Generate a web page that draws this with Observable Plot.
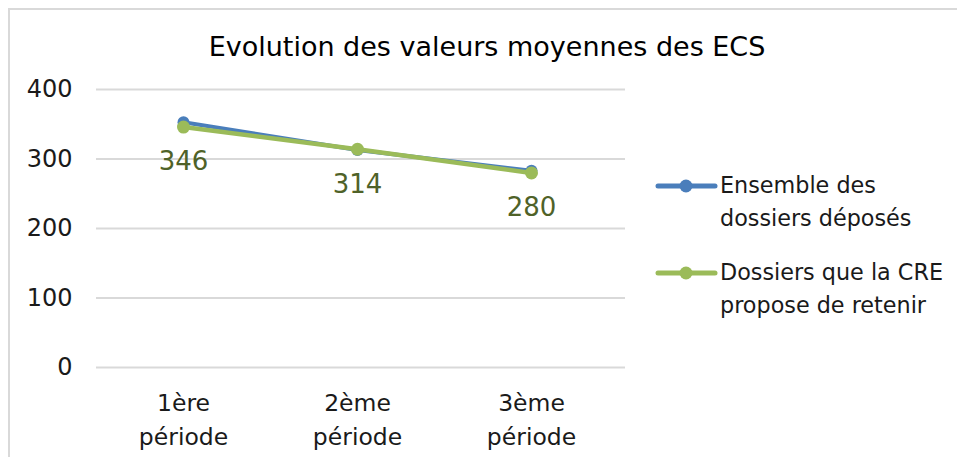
<!DOCTYPE html>
<html>
<head>
<meta charset="utf-8">
<script src="https://cdn.jsdelivr.net/npm/d3@7"></script>
<script src="https://cdn.jsdelivr.net/npm/@observablehq/plot@0.6"></script>
<style>
  html, body { margin: 0; padding: 0; background: #fff; }
  #wrap { position: relative; width: 957px; height: 457px; overflow: hidden; font-family: "DejaVu Sans", sans-serif; }
  #frame { position: absolute; left: 8px; top: 8px; width: 960px; height: 460px; border-top: 2px solid #d9d9d9; border-left: 2px solid #d9d9d9; }
  #title { position: absolute; left: 0; width: 974px; top: 30px; text-align: center; font-size: 27px; color: #000; line-height: 34px; }
  #chart { position: absolute; left: 0; top: 65px; }
  .leg { position: absolute; left: 655px; font-size: 22.3px; line-height: 33px; color: #1a1a1a; }
  .leg svg { position: absolute; left: 0; top: 0; }
  .leg span { display: block; margin-left: 65px; white-space: nowrap; }
</style>
</head>
<body>
<div id="wrap">
  <div id="frame"></div>
  <div id="title">Evolution des valeurs moyennes des ECS</div>
  <div id="chart"></div>
  <div id="legend"></div>
</div>
<script>
const categories = ["1ère\npériode", "2ème\npériode", "3ème\npériode"];
const seriesNames = ["Ensemble des dossiers déposés", "Dossiers que la CRE propose de retenir"];
const seriesLegendLines = [["Ensemble des", "dossiers déposés"], ["Dossiers que la CRE", "propose de retenir"]];
const ensembleValues = [353, 313, 283];
const retenusValues = [346, 314, 280];
const yTicks = [0, 100, 200, 300, 400];
const colors = ["#4a7ebb", "#9bbb59"];
const labelColor = "#4f6228";

const data = [];
categories.forEach((c, i) => {
  data.push({cat: c, value: ensembleValues[i], series: seriesNames[0]});
});
categories.forEach((c, i) => {
  data.push({cat: c, value: retenusValues[i], series: seriesNames[1]});
});
const green = data.filter(d => d.series === seriesNames[1]);
const blue = data.filter(d => d.series === seriesNames[0]);

const chart = Plot.plot({
  width: 957,
  height: 392,
  marginTop: 24,
  marginBottom: 90,
  marginLeft: 96,
  marginRight: 332,
  style: { fontFamily: "DejaVu Sans, sans-serif", fontSize: "24px", color: "#1a1a1a", background: "transparent" },
  x: { type: "point", domain: categories, range: [182, 531], padding: 0 },
  y: { domain: [0, 400], ticks: yTicks },
  marks: [
    Plot.gridY(yTicks, { stroke: "#d9d9d9", strokeOpacity: 1, strokeWidth: 2 }),
    Plot.axisY(yTicks, { tickSize: 0, tickPadding: 24, label: null, fontSize: 24, fill: "#1a1a1a" }),
    Plot.axisX({ tickSize: 0, tickPadding: 20, label: null, fontSize: 23.5, lineHeight: 1.42, fill: "#1a1a1a" }),
    Plot.line(blue, { x: "cat", y: "value", stroke: colors[0], strokeWidth: 4 }),
    Plot.dot(blue, { x: "cat", y: "value", fill: colors[0], r: 6 }),
    Plot.line(green, { x: "cat", y: "value", stroke: colors[1], strokeWidth: 4.5 }),
    Plot.dot(green, { x: "cat", y: "value", fill: colors[1], r: 6.5 }),
    Plot.text(green, { x: "cat", y: "value", text: d => String(d.value), dy: 35, fill: labelColor, fontSize: 26 })
  ]
});
document.getElementById("chart").appendChild(chart);

const legend = document.getElementById("legend");
const legTops = [169, 256];
seriesLegendLines.forEach((lines, i) => {
  const div = document.createElement("div");
  div.className = "leg";
  div.style.top = legTops[i] + "px";
  div.innerHTML = `<svg width="64" height="33"><line x1="3" x2="60" y1="17" y2="17" stroke="${colors[i]}" stroke-width="5" stroke-linecap="round"/><circle cx="31" cy="17" r="6.5" fill="${colors[i]}"/></svg>` +
    lines.map(l => `<span>${l}</span>`).join("");
  legend.appendChild(div);
});
</script>
</body>
</html>
